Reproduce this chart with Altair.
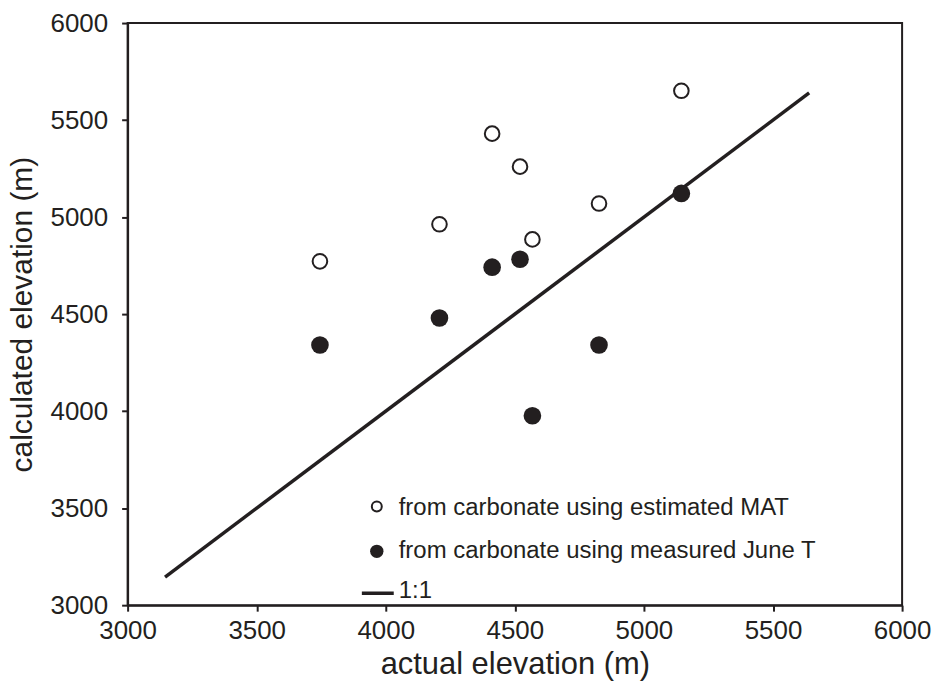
import altair as alt
import pandas as pd

# ---- data ----
actual = [3745, 4208, 4412, 4520, 4568, 4826, 5145]
calc_mat = [4772, 4963, 5430, 5260, 4885, 5070, 5651]
calc_june = [4341, 4480, 4742, 4783, 3976, 4341, 5122]
line_vals = [3145, 5640]
x_ticks = [3000, 3500, 4000, 4500, 5000, 5500, 6000]
y_ticks = [3000, 3500, 4000, 4500, 5000, 5500, 6000]
legend_labels = [
    "from carbonate using estimated MAT",
    "from carbonate using measured June T",
    "1:1",
]

df = pd.DataFrame({"actual": actual, "mat": calc_mat, "june": calc_june})
ldf = pd.DataFrame({"x": line_vals, "y": line_vals})

W, H = 777, 584
INK = "#231f20"
FONT = "Liberation Sans"

xs = alt.Scale(domain=[3000, 6000], nice=False, zero=False)
ys = alt.Scale(domain=[3000, 6000], nice=False, zero=False)

x_axis = alt.Axis(
    title="actual elevation (m)", values=x_ticks, format="d", grid=False,
    tickSize=6, tickWidth=2, domainWidth=2, labelFontSize=26, titleFontSize=31,
    labelPadding=6, titleY=69, titleBaseline="alphabetic", labelFlush=False,
)
y_axis = alt.Axis(
    title="calculated elevation (m)", values=y_ticks, format="d", grid=False,
    tickSize=6, tickWidth=2, domainWidth=2, labelFontSize=26, titleFontSize=30,
    labelPadding=14, titleX=-96, titleY=H / 2, titleAngle=270,
    titleBaseline="alphabetic", titleAlign="center", labelFlush=False,
)

line = alt.Chart(ldf).mark_line(color=INK, strokeWidth=3.5, strokeCap="butt").encode(
    x=alt.X("x:Q", scale=xs, axis=x_axis),
    y=alt.Y("y:Q", scale=ys, axis=y_axis),
)

open_pts = alt.Chart(df).mark_point(
    shape="circle", filled=False, stroke=INK, strokeWidth=2, size=215, opacity=1
).encode(x=alt.X("actual:Q", scale=xs), y=alt.Y("mat:Q", scale=ys))

filled_pts = alt.Chart(df).mark_circle(color=INK, size=313, opacity=1).encode(
    x=alt.X("actual:Q", scale=xs), y=alt.Y("june:Q", scale=ys)
)

l1 = pd.DataFrame({"label": [legend_labels[0]]})
l2 = pd.DataFrame({"label": [legend_labels[1]]})
l3 = pd.DataFrame({"label": [legend_labels[2]]})

leg_open = alt.Chart(l1).mark_point(
    shape="circle", filled=False, stroke=INK, strokeWidth=2, size=100, opacity=1
).encode(x=alt.value(250), y=alt.value(485))
leg_fill = alt.Chart(l2).mark_circle(color=INK, size=180, opacity=1).encode(
    x=alt.value(250), y=alt.value(530)
)
leg_rule = alt.Chart(l3).mark_rule(color=INK, strokeWidth=3.5).encode(
    x=alt.value(235), x2=alt.value(267), y=alt.value(572)
)

def leg_text(d, y):
    return alt.Chart(d).mark_text(
        align="left", baseline="alphabetic", fontSize=24, font=FONT, color=INK
    ).encode(x=alt.value(272), y=alt.value(y), text="label:N")

chart = alt.layer(
    line, open_pts, filled_pts, leg_open, leg_fill, leg_rule,
    leg_text(l1, 494), leg_text(l2, 537), leg_text(l3, 577),
).properties(
    width=W, height=H,
    autosize=alt.AutoSizeParams(type="none"),
    padding={"left": 120, "top": 14, "right": 30, "bottom": 85},
).configure_view(
    stroke=INK, strokeWidth=2
).configure_axis(
    domainColor=INK, tickColor=INK, labelColor=INK, titleColor=INK,
    labelFont=FONT, titleFont=FONT, titleFontWeight="normal",
)

chart.save("out.html", embed_options={"renderer": "svg", "actions": False})
